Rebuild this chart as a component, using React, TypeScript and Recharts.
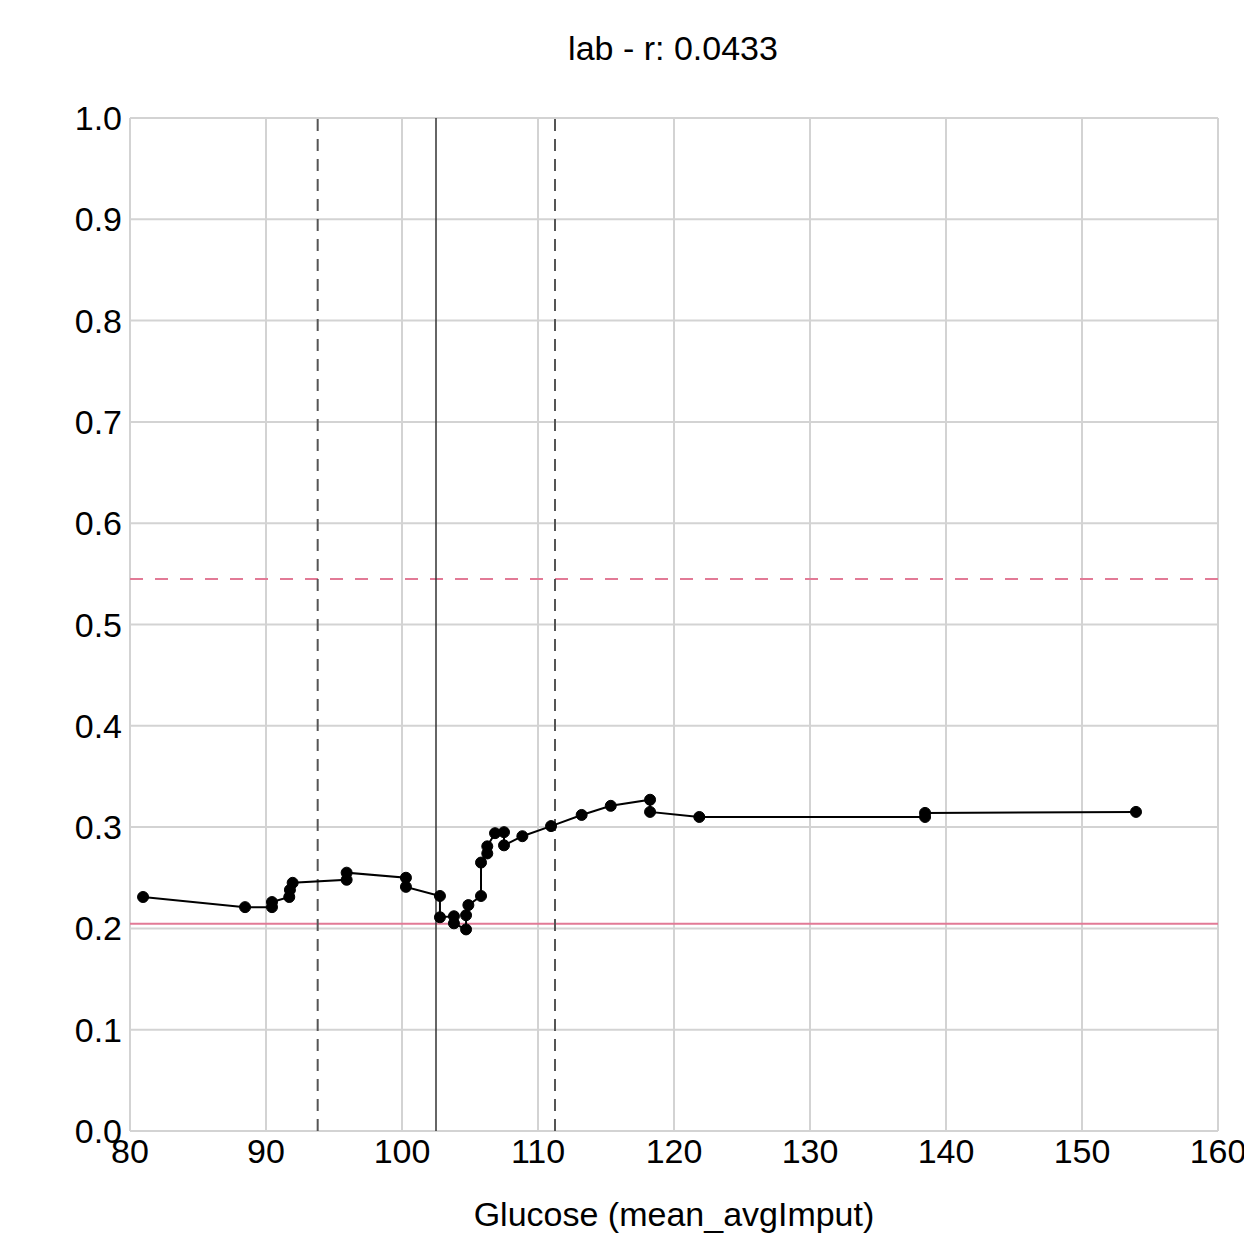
import {
  CartesianGrid,
  ComposedChart,
  Label,
  Line,
  ReferenceLine,
  XAxis,
  YAxis,
} from 'recharts'

// glucose values (x) and matching outcome rate (y), in draw order
const glucose = [
  80.96, 88.46, 90.44, 90.44, 91.71, 91.76, 91.96, 95.93, 95.93, 100.29,
  100.29, 102.79, 102.79, 103.82, 103.82, 104.71, 104.71, 104.88, 105.81,
  105.81, 106.27, 106.27, 106.84, 107.5, 107.5, 108.85, 110.96, 113.21,
  115.35, 118.24, 118.24, 121.86, 138.46, 138.46, 153.97,
]
const rate = [
  0.231, 0.221, 0.221, 0.226, 0.231, 0.238, 0.245, 0.248, 0.255, 0.25,
  0.241, 0.232, 0.211, 0.212, 0.205, 0.199, 0.213, 0.223, 0.232, 0.265,
  0.274, 0.281, 0.294, 0.295, 0.282, 0.291, 0.301, 0.312, 0.321, 0.327,
  0.315, 0.31, 0.31, 0.314, 0.315,
]

const xTicks = [80, 90, 100, 110, 120, 130, 140, 150, 160]
const yTicks = [0, 0.1, 0.2, 0.3, 0.4, 0.5, 0.6, 0.7, 0.8, 0.9, 1.0]

const medianX = 102.5
const quartileX = [93.8, 111.25]
const baseRate = 0.2045
const upperRate = 0.545

const title = 'lab - r: 0.0433'
const xLabel = 'Glucose (mean_avgImput)'

const data = glucose.map((x, i) => ({ x, y: rate[i] }))

const font = '"Liberation Sans", Arial, Helvetica, sans-serif'
const tickStyle = { fontSize: 34, fill: '#000', fontFamily: font }

const App = () => {
  return (
    <div style={{ position: 'absolute', left: 0, top: 0, background: '#fff' }}>
      <ComposedChart
        width={1244}
        height={1238}
        data={data}
        margin={{ top: 118, right: 26, bottom: 0, left: 0 }}
      >
        <text
          x={673}
          y={48}
          textAnchor="middle"
          dominantBaseline="central"
          style={{ fontSize: 34, fontFamily: font, fill: '#000' }}
        >
          {title}
        </text>
        <CartesianGrid stroke="#d3d3d3" strokeWidth={2} />
        <XAxis
          dataKey="x"
          type="number"
          domain={[80, 160]}
          ticks={xTicks}
          axisLine={false}
          tickLine={false}
          tickSize={0}
          tickMargin={8}
          height={107}
          interval={0}
          tick={tickStyle}
        >
          <Label
            value={xLabel}
            position="insideBottom"
            offset={0}
            dy={-12}
            style={{ fontSize: 34, fontFamily: font, fill: '#000' }}
          />
        </XAxis>
        <YAxis
          type="number"
          domain={[0, 1]}
          ticks={yTicks}
          axisLine={false}
          tickLine={false}
          tickSize={0}
          tickMargin={8}
          width={130}
          interval={0}
          tickFormatter={(v: number) => v.toFixed(1)}
          tick={tickStyle}
        />
        <ReferenceLine y={upperRate} stroke="#e27a96" strokeWidth={2} strokeDasharray="13 12" />
        <ReferenceLine y={baseRate} stroke="#e27a96" strokeWidth={2} />
        <ReferenceLine x={medianX} stroke="#333" strokeWidth={1.5} />
        {quartileX.map((q) => (
          <ReferenceLine
            key={q}
            x={q}
            stroke="#555"
            strokeWidth={2}
            strokeDasharray="12 8"
          />
        ))}
        <Line
          type="linear"
          dataKey="y"
          stroke="#000"
          strokeWidth={2}
          dot={{ r: 5.5, fill: '#000', stroke: '#000', strokeWidth: 1 }}
          isAnimationActive={false}
        />
      </ComposedChart>
    </div>
  )
}

export default App
